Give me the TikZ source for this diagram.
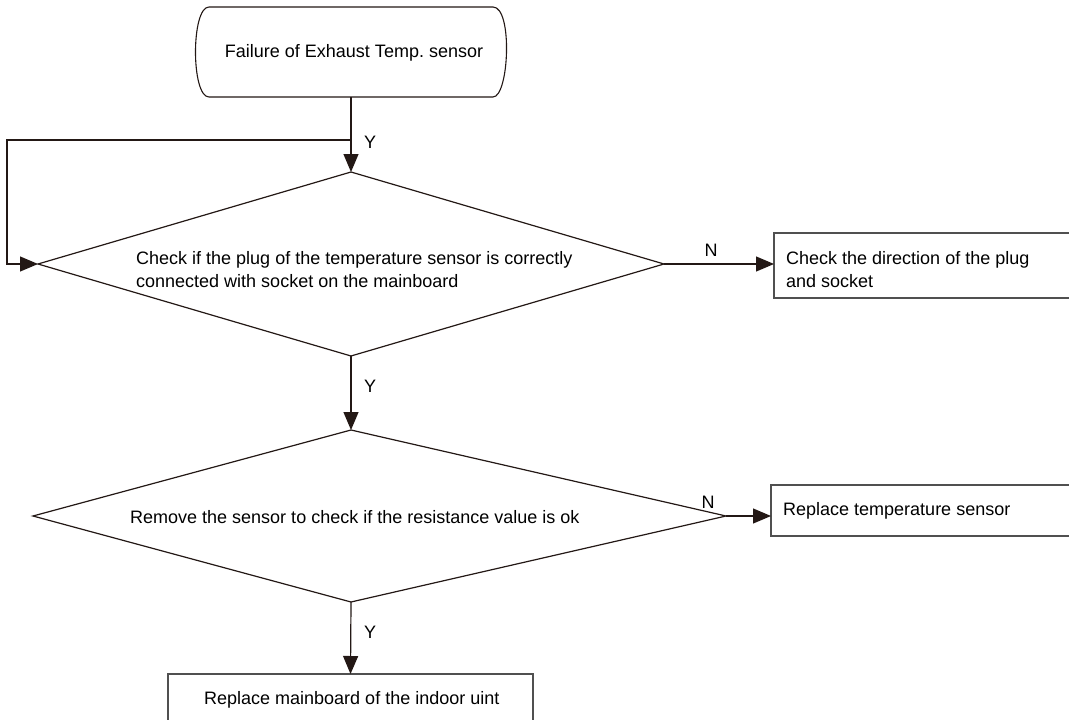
\documentclass[tikz,border=0pt]{standalone}
\usepackage{fontspec}
\setmainfont{Liberation Sans}
\usetikzlibrary{arrows.meta,shapes.geometric}
\definecolor{ln}{RGB}{35,24,21}
\definecolor{bx}{RGB}{80,80,80}
\tikzset{
  arr/.style={draw=ln,line width=1.2pt,-{Triangle[length=18pt,width=15pt]}},
  conn/.style={draw=ln,line width=1.2pt},
  box/.style={draw=bx,line width=1.2pt,rectangle,inner sep=0pt,outer sep=0pt},
  txt/.style={font=\fontsize{18}{23}\selectfont,inner sep=0pt,text=black},
  lbl/.style={font=\fontsize{18}{22}\selectfont,inner sep=0pt,text=black},
}
\begin{document}
\begin{tikzpicture}[x=1pt,y=-1pt]
\useasboundingbox (0,0) rectangle (1069,720);
\fill[white] (0,0) rectangle (1069,720);
% start terminal
\coordinate (st) at (351,7);
\coordinate (sb) at (351,97);
\draw[draw=ln,line width=1.1pt] (209,7) -- (493,7) .. controls (513,7) and (509,97) .. (493,97) -- (209,97) .. controls (191,97) and (191,7) .. (209,7);
\node[txt] (start) at (354,53) {Failure of Exhaust Temp.\ sensor};
% diamond 1
\node[draw=ln,line width=1.2pt,diamond,minimum width=626pt,minimum height=184pt,inner sep=0pt,outer sep=0pt] (d1) at (351,264) {};
\node[txt,anchor=west,align=left] (t1) at (136,270) {Check if the plug of the temperature sensor is correctly\\connected with socket on the mainboard};
% diamond 2
\coordinate (d2t) at (351,430);
\coordinate (d2l) at (33,516);
\coordinate (d2r) at (726,516);
\coordinate (d2b) at (351,602);
\draw[draw=ln,line width=1.2pt] (d2t) -- (d2r) -- (d2b) -- (d2l) -- cycle;
\node[txt,anchor=west] (t2) at (130,517) {Remove the sensor to check if the resistance value is ok};
% right boxes
\node[box,minimum width=306pt,minimum height=65pt] (b1) at (927,265.5) {};
\node[txt,anchor=west,align=left] (tb1) at (786,270) {Check the direction of the plug\\and socket};
\node[box,minimum width=309pt,minimum height=51pt] (b2) at (925.5,510.5) {};
\node[txt,anchor=west] (tb2) at (783,511) {Replace temperature sensor};
% bottom box
\node[box,minimum width=365pt,minimum height=56pt] (b3) at (350.5,702) {};
\node[txt,anchor=west] (tb3) at (204,700) {Replace mainboard of the indoor uint};
% connectors
\coordinate (j) at (351,140);
\coordinate (lc) at (7,140);
\draw[arr] (sb) -- (d1.north);
\draw[arr] (j) -- (lc) |- (d1.west);
\draw[arr] (d1.east) -- (b1.west |- d1.east);
\draw[arr] (d1.south) -- (d2t);
\draw[arr] (d2r) -- (b2.west |- d2r);
\draw[arr] (d2b) -- (b3.north);
% labels
\node[lbl] (y1) at (370,142) {Y};
\node[lbl] (y2) at (370,386) {Y};
\node[lbl] (y3) at (370,632) {Y};
\node[lbl] (n1) at (711,250) {N};
\node[lbl] (n2) at (708,502) {N};
\end{tikzpicture}
\end{document}
